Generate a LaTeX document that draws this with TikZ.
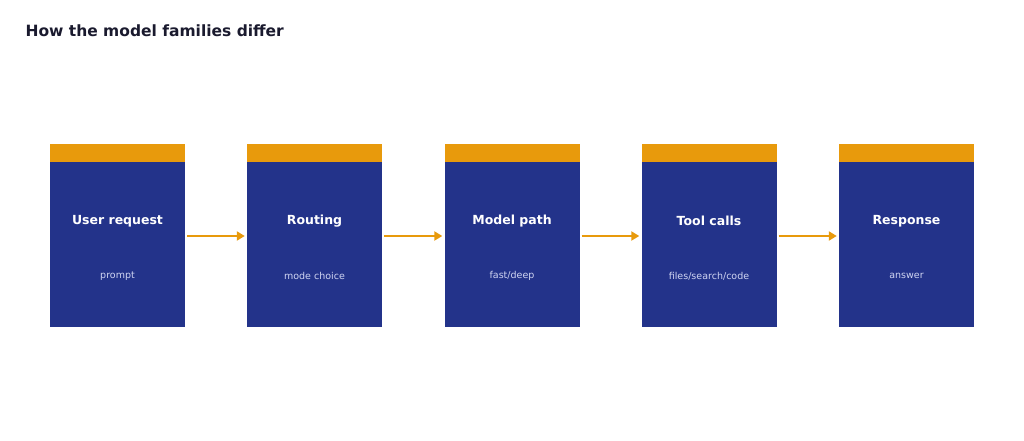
\documentclass[tikz,border=0pt]{standalone}
\usepackage{fontspec}
\setmainfont{DejaVu Sans}
\usetikzlibrary{arrows.meta}
\definecolor{bblue}{HTML}{23338A}
\definecolor{borange}{HTML}{E89A0C}
\definecolor{ttl}{HTML}{1A1A2E}
\definecolor{sub}{HTML}{D0D5F2}
\begin{document}
\begin{tikzpicture}[x=1pt,y=-1pt,
  box/.style={fill=bblue,draw=none,minimum width=135pt,minimum height=165pt,inner sep=0pt},
  topbar/.style={fill=borange,draw=none,minimum width=135pt,minimum height=18pt,inner sep=0pt},
  hd/.style={text=white,font=\bfseries\fontsize{12.5}{14}\selectfont},
  sb/.style={text=sub,font=\fontsize{9.5}{11}\selectfont},
  arr/.style={draw=borange,line width=2.2pt,-{Triangle[length=8pt,width=9pt]}}]
\useasboundingbox (0,0) rectangle (1024,441);
\node[anchor=west,text=ttl,font=\bfseries\fontsize{15.5}{18}\selectfont] (title) at (22,31) {How the model families differ};
\foreach \i/\x/\a/\b in {1/117.5/User request/prompt,2/314.5/Routing/mode choice,3/512/Model path/fast\slash deep,4/709/Tool calls/files\slash search\slash code,5/906.5/Response/answer}{
  \node[box] (b\i) at (\x,244.5) {};
  \node[topbar] (c\i) at (\x,153) {};
  \node[hd] (h\i) at (\x,221) {\a};
  \node[sb] (s\i) at (\x,276) {\b};
}
\foreach \i/\j in {1/2,2/3,3/4,4/5}{
  \draw[arr] ([xshift=2pt,yshift=8.5pt]b\i.east) -- ([xshift=-2pt,yshift=8.5pt]b\j.west);
}
\end{tikzpicture}
\end{document}
